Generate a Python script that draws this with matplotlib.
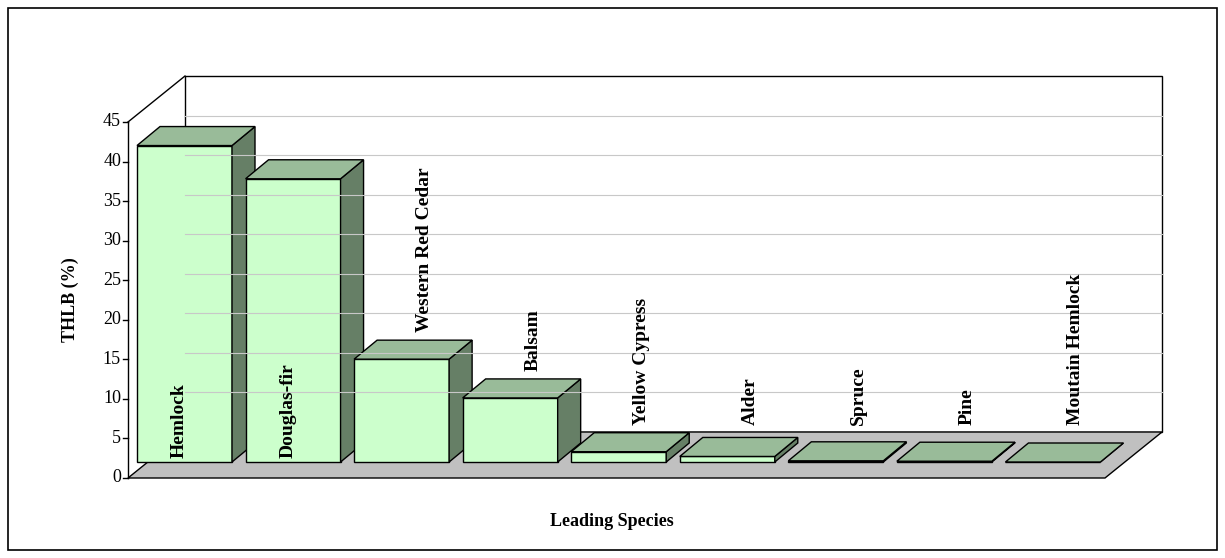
import matplotlib.pyplot as plt
from matplotlib.patches import Polygon, Rectangle

species = ["Hemlock", "Douglas-fir", "Western Red Cedar", "Balsam", "Yellow Cypress",
           "Alder", "Spruce", "Pine", "Moutain Hemlock"]
thlb = [40, 35.8, 13, 8.1, 1.3, 0.7, 0.15, 0.1, 0.0]
yticks = list(range(0, 50, 5))

W, H = 1225, 558
fig = plt.figure(figsize=(W / 100, H / 100), dpi=100)
ax = fig.add_axes([0, 0, 1, 1])
ax.set_xlim(0, W)
ax.set_ylim(H, 0)
ax.axis("off")

font = "Liberation Serif"
sc = (478 - 122) / 45.0          # px per unit
x0, y0 = 128, 478                # front-left floor corner
ddx, ddy = 57, -46               # chart depth
x1 = 1105                        # front-right floor corner

ax.add_patch(Rectangle((8, 8), 1209, 542, fill=False, ec="black", lw=1.2))

# back wall
for v in yticks[1:-1]:
    yy = y0 + ddy - v * sc
    ax.plot([x0 + ddx, x1 + ddx], [yy, yy], color="#c8c8c8", lw=0.8)
ax.add_patch(Polygon([(x0 + ddx, y0 + ddy), (x1 + ddx, y0 + ddy),
                      (x1 + ddx, y0 + ddy - 45 * sc), (x0 + ddx, y0 + ddy - 45 * sc)],
                     fill=False, ec="black", lw=1))
ax.plot([x0, x0 + ddx], [y0 - 45 * sc, y0 + ddy - 45 * sc], color="black", lw=1)

# floor
ax.add_patch(Polygon([(x0, y0), (x1, y0), (x1 + ddx, y0 + ddy), (x0 + ddx, y0 + ddy)],
                     fc="#c0c0c0", ec="black", lw=1))

# y axis
ax.plot([x0, x0], [y0, y0 - 45 * sc], color="black", lw=1)
for v in yticks:
    yy = y0 - v * sc
    ax.plot([x0 - 5, x0], [yy, yy], color="black", lw=1)
    ax.text(x0 - 7, yy, str(v), ha="right", va="center", fontsize=13, family=font)

# bars
step = (x1 - x0) / len(species)
bw, bdx, bdy = 95, 23, -19
base = 462
for i, (name, v) in enumerate(zip(species, thlb)):
    xl = x0 + 9 + i * step
    xr = xl + bw
    yt = base - v * sc
    ax.add_patch(Polygon([(xl, base), (xr, base), (xr, yt), (xl, yt)],
                         fc="#ccffcc", ec="black", lw=1))
    ax.add_patch(Polygon([(xr, base), (xr + bdx, base + bdy), (xr + bdx, yt + bdy), (xr, yt)],
                         fc="#667f66", ec="black", lw=1))
    ax.add_patch(Polygon([(xl, yt), (xr, yt), (xr + bdx, yt + bdy), (xl + bdx, yt + bdy)],
                         fc="#99bb99", ec="black", lw=1))
    if v > 30:
        ax.text(xl + bw / 2 - 5, base - 4, name, rotation=90, ha="center", va="bottom",
                fontsize=14, fontweight="bold", family=font)
    else:
        ax.text(xl + bw / 2 + bdx, min(yt + bdy - 8, 425), name, rotation=90, ha="center",
                va="bottom", fontsize=14, fontweight="bold", family=font)

ax.text(70, 300, "THLB (%)", rotation=90, ha="center", va="center",
        fontsize=13, fontweight="bold", family=font)
ax.text(612, 521, "Leading Species", ha="center", va="center",
        fontsize=13, fontweight="bold", family=font)

fig.savefig("out.png", dpi=100)
